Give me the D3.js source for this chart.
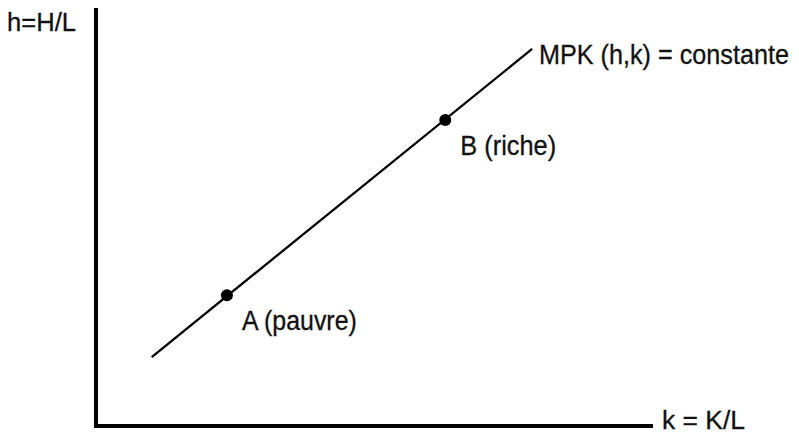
<!DOCTYPE html>
<html>

<head>
    <title>MPK</title>
    <script src="https://cdn.jsdelivr.net/npm/d3@7"></script>
    <style>
        body { margin: 0; background: #fff; }
        text { font-family: 'Liberation Sans', sans-serif; fill: #111; stroke: #111; stroke-width: 0.3; }
    </style>
</head>

<body>
    <svg width="799" height="434" id="mainsvg"></svg>
    <script>
        const svg = d3.select('#mainsvg');

        // data (arbitrary units 0..100 on both axes)
        const lineK = [10.0, 78.3];
        const lineH = [16.5, 90.2];
        const pointNames = ['A (pauvre)', 'B (riche)'];
        const pointK = [23.5, 62.7];
        const pointH = [31.3, 73.2];
        const axisLabels = ['h=H/L', 'k = K/L'];
        const curveLabel = 'MPK (h,k) = constante';

        const xScale = d3.scaleLinear().domain([0, 100]).range([96, 653]);
        const yScale = d3.scaleLinear().domain([0, 100]).range([426, 8]);

        // condensed look: draw text at (x,y), then squeeze it horizontally to width w
        function label(x, y, size, str, w) {
            const t = svg.append('text').attr('font-size', size).text(str);
            const nat = t.node().getComputedTextLength();
            t.attr('transform', `translate(${x},${y}) scale(${w / nat},1)`);
            return t;
        }

        // axes
        svg.append('path')
            .attr('d', `M${xScale(0)},${yScale(100)} L${xScale(0)},${yScale(0)} L${xScale(100)},${yScale(0)}`)
            .attr('fill', 'none').attr('stroke', '#000').attr('stroke-width', 4);

        // the MPK line
        const lineData = lineK.map((k, i) => [k, lineH[i]]);
        svg.append('path')
            .attr('d', d3.line().x(d => xScale(d[0])).y(d => yScale(d[1]))(lineData))
            .attr('stroke', '#000').attr('stroke-width', 2.3).attr('fill', 'none');

        // points
        const pts = pointNames.map((n, i) => ({ name: n, k: pointK[i], h: pointH[i] }));
        svg.selectAll('.pt').data(pts).join('circle')
            .attr('class', 'pt')
            .attr('cx', d => xScale(d.k)).attr('cy', d => yScale(d.h))
            .attr('r', 6).attr('fill', '#000');
        pts.forEach((d, i) => label(xScale(d.k) + 15, yScale(d.h) + 35, 27, d.name, [115, 96][i]));

        // labels
        label(7, 31, 26, axisLabels[0], 69);
        label(662, 429, 26, axisLabels[1], 83);
        label(539, 64, 27, curveLabel, 250);
    </script>
</body>

</html>
